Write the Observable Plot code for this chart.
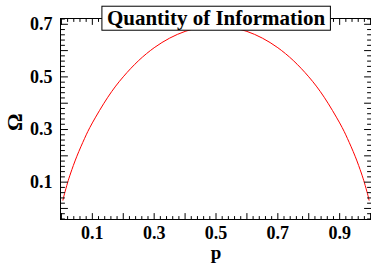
<!DOCTYPE html>
<html>
<head>
<meta charset="utf-8">
<script src="https://cdn.jsdelivr.net/npm/d3@7"></script>
<script src="https://cdn.jsdelivr.net/npm/@observablehq/plot@0.6"></script>
<style>
  html, body { margin: 0; padding: 0; background: #fff; }
  #chart svg { display: block; }
</style>
</head>
<body>
<div id="chart"></div>
<script>
const title = "Quantity of Information";
const xLabel = "p";
const yLabel = "Ω";

const pValues = [0.005, 0.01, 0.02, 0.03, 0.05, 0.075, 0.1, 0.15, 0.2, 0.25, 0.3, 0.35, 0.4, 0.45, 0.5,
                 0.55, 0.6, 0.65, 0.7, 0.75, 0.8, 0.85, 0.9, 0.925, 0.95, 0.97, 0.98, 0.99, 0.995];
const hValues = [0.0315, 0.056, 0.098, 0.1347, 0.1985, 0.2664, 0.3251, 0.4227, 0.5004, 0.5623, 0.6109, 0.6474, 0.673, 0.6881, 0.6931,
                 0.6881, 0.673, 0.6474, 0.6109, 0.5623, 0.5004, 0.4227, 0.3251, 0.2664, 0.1985, 0.1347, 0.098, 0.056, 0.0315];

const xTickLabels = [0.1, 0.3, 0.5, 0.7, 0.9];
const yTickLabels = [0.1, 0.3, 0.5, 0.7];
const xMajor = d3.range(0, 11).map(i => i / 10);
const xMinor = d3.range(0, 51).map(i => i / 50).filter(v => Math.abs(v * 10 - Math.round(v * 10)) > 1e-6);
const yMajor = d3.range(0, 8).map(i => i / 10);
const yMinor = d3.range(-2, 37).map(i => i / 50).filter(v => Math.abs(v * 10 - Math.round(v * 10)) > 1e-6);

const data = pValues.map((p, i) => ({p, h: hValues[i]}));

const tickShape = {draw(ctx, l) { ctx.moveTo(0, 0); ctx.lineTo(0, -l); }};
const ticks = (vals, ch, anchor, len) => {
  const rot = {bottom: 0, top: 180, left: 90, right: -90}[anchor];
  return Plot.vector(vals, {[ch]: d => d, frameAnchor: anchor, length: len, rotate: rot,
    anchor: "start", shape: tickShape, stroke: "black", strokeWidth: 1});
};

const font = "'Liberation Serif', 'DejaVu Serif', serif";

const plot = Plot.plot({
  width: 371,
  height: 265,
  marginLeft: 60,
  marginRight: 0,
  marginTop: 18,
  marginBottom: 46,
  style: {fontFamily: font, background: "white"},
  x: {domain: [-0.003, 1.003], axis: null},
  y: {domain: [-0.042, 0.722], axis: null},
  marks: [
    Plot.line(data, {x: "p", y: "h", stroke: "red", strokeWidth: 1, curve: "natural"}),
    Plot.frame({stroke: "black", strokeWidth: 1}),
    ticks(xMajor, "x", "bottom", 6),
    ticks(xMinor, "x", "bottom", 3),
    ticks(xMajor, "x", "top", 6),
    ticks(xMinor, "x", "top", 3),
    ticks(yMajor, "y", "left", 7),
    ticks(yMinor, "y", "left", 4),
    ticks(yMajor, "y", "right", 7),
    ticks(yMinor, "y", "right", 4),
    Plot.text(xTickLabels, {x: d => d, frameAnchor: "bottom", dy: 7, lineAnchor: "top",
      text: d => d.toFixed(1), fontSize: 18, fontWeight: "bold", fill: "black"}),
    Plot.text(yTickLabels, {y: d => d, frameAnchor: "left", dx: -8, textAnchor: "end",
      text: d => d.toFixed(1), fontSize: 18, fontWeight: "bold", fill: "black"}),
    Plot.text([xLabel], {frameAnchor: "bottom", dy: 26, lineAnchor: "top",
      fontSize: 19, fontWeight: "bold", fill: "black"}),
    Plot.text([yLabel], {frameAnchor: "left", dx: -46, dy: 12, rotate: -90,
      fontSize: 22, fontWeight: "bold", fill: "black"}),
    Plot.text([title], {frameAnchor: "top", dy: 0, lineAnchor: "middle", className: "plot-title",
      fontSize: 21, fontWeight: "bold", fill: "black"})
  ]
});

document.getElementById("chart").appendChild(plot);

// white box behind the title
const tEl = plot.querySelector(".plot-title text") || plot.querySelector("g.plot-title text");
if (tEl) {
  const bb = tEl.getBBox();
  const g = tEl.parentNode;
  const ns = "http://www.w3.org/2000/svg";
  const rect = document.createElementNS(ns, "rect");
  const padX = 5, padY = 0;
  rect.setAttribute("x", bb.x - padX);
  rect.setAttribute("y", bb.y - padY);
  rect.setAttribute("width", bb.width + 2 * padX);
  rect.setAttribute("height", bb.height + 2 * padY);
  rect.setAttribute("fill", "white");
  rect.setAttribute("stroke", "black");
  rect.setAttribute("stroke-width", 1);
  const tr = tEl.getAttribute("transform");
  if (tr) rect.setAttribute("transform", tr);
  g.insertBefore(rect, tEl);
}
</script>
</body>
</html>
